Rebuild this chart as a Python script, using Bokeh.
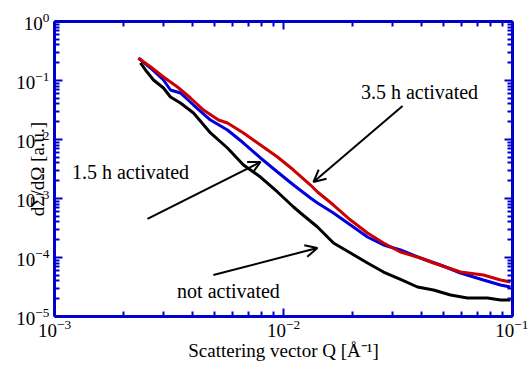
import math
from bokeh.plotting import figure
from bokeh.models import LogAxis, Label, Arrow, OpenHead, FixedTicker
from bokeh.embed import file_html
from bokeh.resources import INLINE

# ---- data ----
q_red = [0.002326, 0.002626, 0.002992, 0.003443, 0.003925, 0.004474, 0.005202, 0.005693,
         0.006688, 0.007935, 0.009415, 0.01106, 0.01312, 0.01408, 0.01653, 0.01962,
         0.02327, 0.02734, 0.03243, 0.03965, 0.04519, 0.05928, 0.07467, 0.08863, 0.09802]
i_red = [0.2378, 0.1714, 0.1146, 0.07761, 0.05051, 0.03162, 0.02140, 0.01904,
         0.01289, 0.008068, 0.005050, 0.003041, 0.001693, 0.001289, 0.0007757, 0.0004320,
         0.0002602, 0.0001761, 0.0001239, 0.00009806, 0.00008068, 0.00005677, 0.00005050,
         0.00004156, 0.00003843]

q_blue = [0.002326, 0.002626, 0.002992, 0.003210, 0.003549, 0.004046, 0.004800, 0.005693,
          0.006688, 0.007935, 0.009415, 0.01106, 0.01312, 0.01408, 0.01653, 0.01962,
          0.02327, 0.02734, 0.03243, 0.03965, 0.04848, 0.05928, 0.07467, 0.08863, 0.09802]
i_blue = [0.2406, 0.1628, 0.1020, 0.06902, 0.06139, 0.03843, 0.02140, 0.01449,
          0.008723, 0.004858, 0.002812, 0.001693, 0.001020, 0.0008389, 0.0005677, 0.0003554,
          0.0002226, 0.0001629, 0.0001340, 0.00009806, 0.00007462, 0.00005461, 0.00004156,
          0.00003418, 0.00003162]

q_black = [0.002373, 0.002496, 0.002706, 0.002992, 0.003210, 0.003549, 0.004046, 0.004800,
           0.005693, 0.006688, 0.007935, 0.009415, 0.01106, 0.01187, 0.01408, 0.01653,
           0.01962, 0.02327, 0.02734, 0.03243, 0.03847, 0.04519, 0.05361, 0.06360, 0.07773,
           0.08863, 0.09802]
i_black = [0.1980, 0.1507, 0.1020, 0.07463, 0.05252, 0.04156, 0.02813, 0.01289,
           0.007177, 0.003697, 0.002313, 0.001289, 0.0007177, 0.0005677, 0.0003287, 0.0001761,
           0.0001192, 0.00008068, 0.00005677, 0.00004240, 0.00003162, 0.00002812, 0.00002313,
           0.00002059, 0.00002059, 0.00001904, 0.00001904]

# axis decades
x_decades = [-3, -2, -1]
y_decades = [-5, -4, -3, -2, -1, 0]

# annotations: text, text position, arrow start, arrow end (data units)
ann_texts = ["3.5 h activated", "1.5 h activated", "not activated"]
ann_text_x = [0.03926, 0.002148, 0.00575]
ann_text_y = [0.0638, 0.00281, 0.0000270]
arrow_x0 = [0.0331, 0.002547, 0.00494]
arrow_y0 = [0.0370, 0.000450, 0.0000505]
arrow_x1 = [0.01352, 0.00794, 0.01406]
arrow_y1 = [0.001905, 0.00416, 0.000145]

x_label = "Scattering vector Q [Å\u207b\u00b9]"
y_label = "dΣ/dΩ [a.u.]"

FONT = "Liberation Serif"
AXIS_BLUE = "#0000CC"
RED = "#CC0000"
BLUE = "#0000DD"


def make_ticker(decades):
    major = [10.0 ** d for d in decades]
    minor = [k * 10.0 ** d for d in decades[:-1] for k in range(2, 10)]
    return FixedTicker(ticks=major, minor_ticks=minor)


p = figure(width=528, height=364, x_axis_type="log", y_axis_type="log",
           x_range=(1e-3, 1e-1), y_range=(1e-5, 1),
           output_backend="svg", toolbar_location=None,
           min_border_left=54, min_border_right=16, min_border_top=21, min_border_bottom=48)
p.grid.visible = False
p.outline_line_color = None
p.background_fill_color = "white"
p.border_fill_color = "white"

p.line(q_black, i_black, line_color="black", line_width=3)
p.line(q_blue, i_blue, line_color=BLUE, line_width=3)
p.line(q_red, i_red, line_color=RED, line_width=3)


def style_axis(ax, labels=True):
    ax.axis_line_color = AXIS_BLUE
    ax.axis_line_width = 3
    ax.major_tick_line_color = AXIS_BLUE
    ax.minor_tick_line_color = AXIS_BLUE
    ax.major_tick_line_width = 2
    ax.minor_tick_line_width = 2
    ax.major_tick_in = 8
    ax.major_tick_out = 0
    ax.minor_tick_in = 5
    ax.minor_tick_out = 0
    if labels:
        ax.major_label_text_font = FONT
        ax.major_label_text_font_size = "19px"
        ax.major_label_text_color = "black"
        ax.major_label_standoff = 5
    else:
        ax.major_label_text_font_size = "1px"
        ax.major_label_text_color = None
        ax.major_label_standoff = 0


for ax in p.xaxis:
    ax.ticker = make_ticker(x_decades)
    style_axis(ax)
    ax.major_label_standoff = 3
    ax.axis_label = x_label
    ax.axis_label_text_font = FONT
    ax.axis_label_text_font_size = "19px"
    ax.axis_label_text_font_style = "normal"
    ax.axis_label_text_color = "black"
    ax.axis_label_standoff = 0
for ax in p.yaxis:
    ax.ticker = make_ticker(y_decades)
    style_axis(ax)
    ax.axis_label = y_label
    ax.axis_label_text_font = FONT
    ax.axis_label_text_font_size = "19px"
    ax.axis_label_text_font_style = "normal"
    ax.axis_label_text_color = "black"
    ax.axis_label_standoff = -35

top = LogAxis(ticker=make_ticker(x_decades))
style_axis(top, labels=False)
p.add_layout(top, "above")
right = LogAxis(ticker=make_ticker(y_decades))
style_axis(right, labels=False)
p.add_layout(right, "right")

for t, tx, ty in zip(ann_texts, ann_text_x, ann_text_y):
    p.add_layout(Label(x=tx, y=ty, text=t, text_align="center", text_baseline="middle",
                       text_font=FONT, text_font_size="20px", text_color="black"))

for xs, ys, xe, ye in zip(arrow_x0, arrow_y0, arrow_x1, arrow_y1):
    p.add_layout(Arrow(x_start=xs, y_start=ys, x_end=xe, y_end=ye,
                       line_color="black", line_width=2,
                       end=OpenHead(size=12, line_width=2, line_color="black")))

open("out.html", "w").write(file_html(p, INLINE))
